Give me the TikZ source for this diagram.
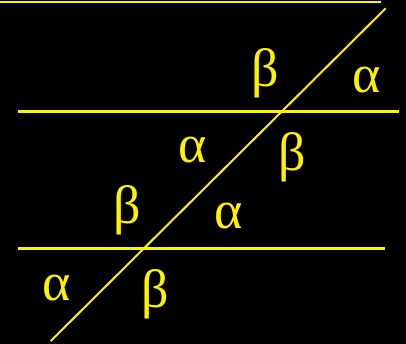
\documentclass[tikz,border=0pt]{standalone}
\usepackage{fontspec}
\setmainfont{Liberation Serif}
\begin{document}
\begin{tikzpicture}[x=1pt,y=-1pt,
  hline/.style={draw=yellow,line width=2.5pt},
  tline/.style={draw=yellow,line width=2pt},
  ang/.style={text=yellow,inner sep=0pt,anchor=base,font=\fontsize{54}{54}\selectfont}]
\fill[black] (0,0) rectangle (406,344);
\useasboundingbox (0,0) rectangle (406,344);
% lines
\coordinate (t1) at (0,2);
\coordinate (t2) at (381,2);
\coordinate (m1) at (18,111.7);
\coordinate (m2) at (399,111.7);
\coordinate (b1) at (18,248.3);
\coordinate (b2) at (385,248.3);
\coordinate (d1) at (385.7,8.3);
\coordinate (d2) at (50.7,341);
\draw[hline] (t1) -- (t2);
\draw[hline] (m1) -- (m2);
\draw[hline] (b1) -- (b2);
\draw[tline] (d1) -- (d2);
% labels
\node[ang] (b_tl) at (265,87) {β};
\node[ang] (a_tr) at (367,93) {α};
\node[ang] (a_ml) at (193,163) {α};
\node[ang] (b_mr) at (292,171) {β};
\node[ang] (b_l) at (127,224) {β};
\node[ang] (a_r) at (229,229) {α};
\node[ang] (a_bl) at (57,300) {α};
\node[ang] (b_b) at (155,307) {β};
\end{tikzpicture}
\end{document}
